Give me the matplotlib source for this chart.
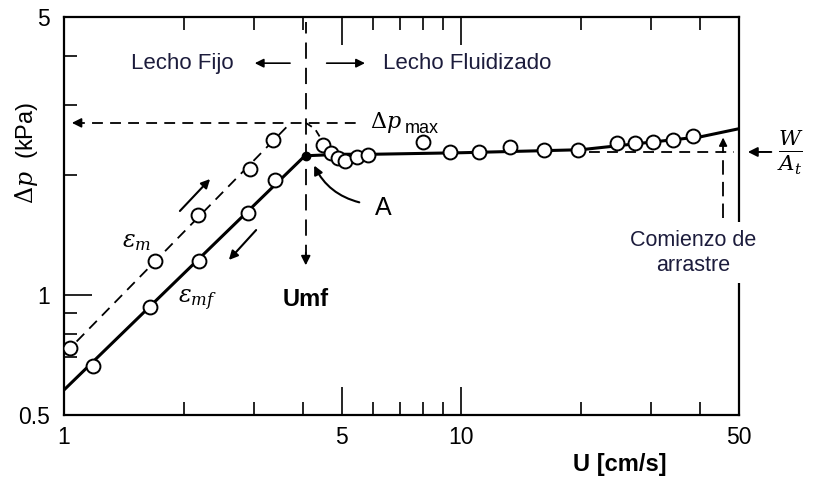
import matplotlib
matplotlib.use("Agg")
import matplotlib.pyplot as plt

plt.rcParams['font.family'] = ['Liberation Sans', 'DejaVu Sans']
plt.rcParams['mathtext.fontset'] = 'dejavuserif'

# ---- data ----
U_mf_line = [1.0, 4.04]            # solid epsilon_mf line (fixed bed)
dp_mf_line = [0.578, 2.24]
U_mf_pts = [1.18, 1.646, 2.187, 2.905, 3.40]
dp_mf_pts = [0.664, 0.934, 1.219, 1.609, 1.95]

U_m_line = [1.0, 3.72]             # dashed epsilon_m line
dp_m_line = [0.71, 2.71]
U_m_pts = [1.035, 1.694, 2.175, 2.94, 3.36]
dp_m_pts = [0.737, 1.219, 1.591, 2.075, 2.455]

U_fl_line = [4.04, 5.0, 6.0, 10.0, 20.0, 40.0, 50.0]   # fluidized bed line
dp_fl_line = [2.24, 2.26, 2.26, 2.28, 2.32, 2.50, 2.62]
U_fl_pts = [4.48, 4.70, 4.89, 5.10, 5.46, 5.82, 8.01, 9.37, 11.08, 13.26,
            16.15, 19.67, 24.66, 27.37, 30.37, 34.1, 38.3]
dp_fl_pts = [2.38, 2.28, 2.21, 2.17, 2.22, 2.25, 2.43, 2.29, 2.29, 2.36,
             2.32, 2.32, 2.41, 2.41, 2.43, 2.45, 2.51]

U_arc = [4.06, 4.28, 4.46]         # dashed curl from dp_max down to the bed
dp_arc = [2.71, 2.62, 2.45]

U_mf = 4.06
dp_max = 2.71
W_At = 2.29
U_entrain = 45.6

x_ticks = [1, 5, 10, 50]
x_ticklabels = ['1', '5', '10', '50']
x_minor = [2, 3, 4, 6, 7, 8, 9, 20, 30, 40]
y_ticks = [0.5, 1, 5]
y_ticklabels = ['0.5', '1', '5']
y_minor = [0.7, 0.8, 0.9, 2, 3, 4]

txt_col = '#1c1c3c'

fig = plt.figure(figsize=(8.19, 4.79), dpi=100)
ax = fig.add_axes([64/819, 64/479, 675/819, 398/479])
ax.set_xscale('log')
ax.set_yscale('log')
ax.set_xlim(1, 50)
ax.set_ylim(0.5, 5)

for s in ax.spines.values():
    s.set_linewidth(1.6)

ax.set_xticks(x_ticks)
ax.set_xticklabels(x_ticklabels)
ax.set_xticks(x_minor, minor=True)
ax.set_xticklabels([], minor=True)
ax.set_yticks(y_ticks)
ax.set_yticklabels(y_ticklabels)
ax.set_yticks(y_minor, minor=True)
ax.set_yticklabels([], minor=True)
ax.tick_params(which='major', direction='in', length=20, width=1.2,
               top=True, right=False, labelsize=16.5)
ax.tick_params(axis='x', which='major', pad=8)
ax.tick_params(axis='y', which='major', pad=10)
ax.tick_params(which='minor', direction='in', length=9.5, width=1.2,
               top=True, right=False)

# lines
ax.plot(U_mf_line, dp_mf_line, color='black', lw=2.2, zorder=3)
ax.plot(U_m_line, dp_m_line, color='black', lw=1.3, ls=(0, (6, 4)), zorder=3)
ax.plot(U_fl_line, dp_fl_line, color='black', lw=2.2, zorder=3)
ax.plot(U_arc, dp_arc, color='black', lw=1.3, ls=(0, (4, 3)), zorder=3)

mk = dict(marker='o', ms=10, mfc='white', mec='black', mew=1.4, ls='none', zorder=4)
ax.plot(U_mf_pts, dp_mf_pts, **mk)
ax.plot(U_m_pts, dp_m_pts, **mk)
ax.plot(U_fl_pts, dp_fl_pts, **mk)
ax.plot([U_mf], [2.24], marker='o', ms=6, color='black', zorder=5)

# dp_max horizontal dashed arrow
ax.plot([1.06, 5.62], [dp_max, dp_max], color='black', lw=1.3, ls=(0, (6, 4)), zorder=3)
ax.annotate('', xy=(1.03, dp_max), xytext=(1.12, dp_max),
            arrowprops=dict(arrowstyle='-|>', color='black', lw=1.2,
                            mutation_scale=14), zorder=3)
ax.text(5.9, dp_max, r'$\mathit{\Delta} p$', fontsize=16, ha='left', va='center')
ax.text(7.2, 2.63, 'max', fontsize=13, ha='left', va='center')

# Umf vertical dashed arrow
ax.plot([U_mf, U_mf], [1.22, 4.85], color='black', lw=1.3, ls=(0, (9, 5)), zorder=3)
ax.annotate('', xy=(U_mf, 1.17), xytext=(U_mf, 1.3),
            arrowprops=dict(arrowstyle='-|>', color='black', lw=1.2,
                            mutation_scale=14), zorder=3)
ax.text(U_mf, 0.5 * 10 ** (115 / 398), 'Umf', fontsize=17, fontweight='bold',
        ha='center', va='center')

# W/At dashed level and entrainment arrow
ax.plot([21.0, 48.7], [W_At, W_At], color='black', lw=1.3, ls=(0, (6, 4)), zorder=3)
ax.plot([U_entrain, U_entrain], [1.56, 2.4], color='black', lw=1.3,
        ls=(0, (8, 4)), zorder=3)
ax.annotate('', xy=(U_entrain, 2.53), xytext=(U_entrain, 2.35),
            arrowprops=dict(arrowstyle='-|>', color='black', lw=1.2,
                            mutation_scale=12), zorder=3)
ax.annotate('', xy=(1.009, W_At), xytext=(1.052, W_At),
            xycoords=('axes fraction', 'data'), textcoords=('axes fraction', 'data'),
            arrowprops=dict(arrowstyle='-|>', color='black', lw=1.4,
                            mutation_scale=14), annotation_clip=False)
ax.text(1.076, W_At, r'$\frac{W}{A_t}$', fontsize=22, ha='center', va='center',
        transform=ax.get_yaxis_transform())
ax.text(0.932, 0.408, 'Comienzo de\narrastre', fontsize=15.5, color=txt_col,
        ha='center', va='center', linespacing=1.25, transform=ax.transAxes,
        bbox=dict(boxstyle='square,pad=0.35', fc='white', ec='none'), zorder=6)

# Lecho labels and arrows
ax.text(0.176, 0.882, 'Lecho Fijo', fontsize=16, color=txt_col, ha='center',
        va='center', transform=ax.transAxes)
ax.text(0.4726, 0.882, 'Lecho Fluidizado', fontsize=16, color=txt_col, ha='left',
        va='center', transform=ax.transAxes)
ax.annotate('', xy=(0.2785, 0.884), xytext=(0.339, 0.884), xycoords='axes fraction',
            arrowprops=dict(arrowstyle='-|>', color='black', lw=1.2, mutation_scale=13))
ax.annotate('', xy=(0.450, 0.884), xytext=(0.385, 0.884), xycoords='axes fraction',
            arrowprops=dict(arrowstyle='-|>', color='black', lw=1.2, mutation_scale=13))

# epsilon labels and direction arrows
ax.text((137 - 64) / 675, (415 - 242) / 398, r'$\varepsilon_m$', fontsize=17,
        ha='center', va='center', transform=ax.transAxes)
ax.text((197 - 64) / 675, (415 - 300) / 398, r'$\varepsilon_{mf}$', fontsize=17,
        ha='center', va='center', transform=ax.transAxes)
ax.annotate('', xy=((212 - 64) / 675, (415 - 177) / 398),
            xytext=((178 - 64) / 675, (415 - 213) / 398), xycoords='axes fraction',
            arrowprops=dict(arrowstyle='-|>', color='black', lw=1.5, mutation_scale=13))
ax.annotate('', xy=((227 - 64) / 675, (415 - 262) / 398),
            xytext=((258 - 64) / 675, (415 - 228) / 398), xycoords='axes fraction',
            arrowprops=dict(arrowstyle='-|>', color='black', lw=1.5, mutation_scale=13))

# A label with curved arrow
ax.annotate('', xy=((313 - 64) / 675, (415 - 163) / 398),
            xytext=((362 - 64) / 675, (415 - 203) / 398), xycoords='axes fraction',
            arrowprops=dict(arrowstyle='-|>', color='black', lw=1.5, mutation_scale=13,
                            connectionstyle='arc3,rad=-0.25'))
ax.text((383 - 64) / 675, (415 - 208) / 398, 'A', fontsize=18, ha='center',
        va='center', transform=ax.transAxes)

# axis labels
fig.text(26 / 819, 1 - 153 / 479, r'$\mathit{\Delta} p$  (kPa)', fontsize=17, rotation=90,
         ha='center', va='center')
fig.text(620 / 819, 1 - 465 / 479, 'U [cm/s]', fontsize=17, fontweight='bold',
         ha='center', va='center')

fig.savefig('out.png', dpi=100)
